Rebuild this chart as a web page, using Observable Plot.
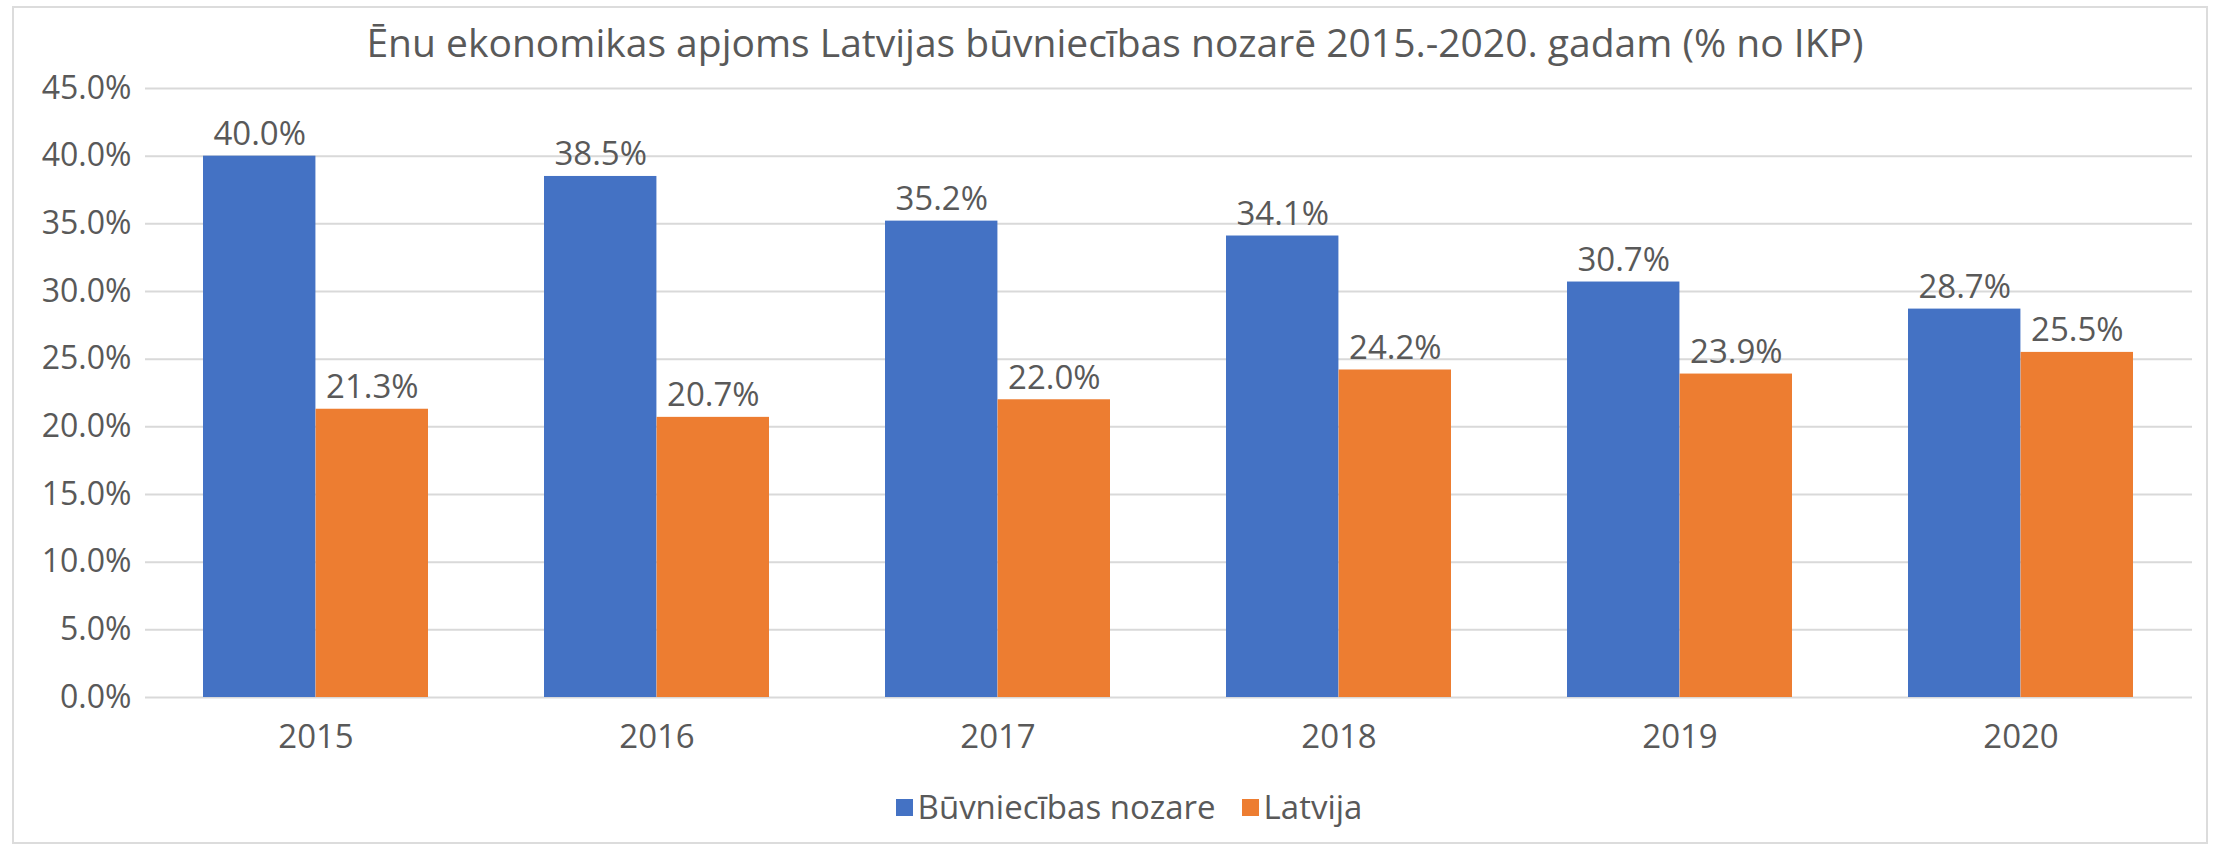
<!DOCTYPE html>
<html><head><meta charset="utf-8">
<script src="https://cdn.jsdelivr.net/npm/d3@7"></script>
<script src="https://cdn.jsdelivr.net/npm/@observablehq/plot@0.6"></script>
<style>
body{margin:0;background:#fff;}
#wrap{position:relative;width:2223px;height:847px;font-family:"Open Sans",sans-serif;color:#595959;overflow:hidden;background:#fff}
#frame{position:absolute;left:12px;top:6px;width:2196px;height:838px;border:2px solid #dcdcdc;box-sizing:border-box}
#title{position:absolute;left:0;width:2230px;top:17px;text-align:center;font-size:39px;line-height:50px;white-space:nowrap}
#chart{position:absolute;left:0;top:0}
#legend{position:absolute;left:0;width:2258px;top:787px;display:flex;justify-content:center;align-items:center;font-size:33px;line-height:40px;gap:26px}
#legend .item{display:flex;align-items:center;gap:5px}
#legend .sw{width:17px;height:17px;display:inline-block}
</style>
</head><body>
<div id="wrap">
  <div id="frame"></div>
  <div id="chart"></div>
  <div id="title"></div>
  <div id="legend"></div>
</div>
<script>
const titleText = "Ēnu ekonomikas apjoms Latvijas būvniecības nozarē 2015.-2020. gadam (% no IKP)";
const years = ["2015","2016","2017","2018","2019","2020"];
const buvniecibasNozare = [40.0, 38.5, 35.2, 34.1, 30.7, 28.7];
const latvija = [21.3, 20.7, 22.0, 24.2, 23.9, 25.5];
const seriesNames = ["Būvniecības nozare", "Latvija"];
const seriesColors = ["#4472C4", "#ED7D31"];
const yTicks = [0, 5, 10, 15, 20, 25, 30, 35, 40, 45];

const W = 2223, H = 780, ml = 145, mr = 31, mt = 88, mb = 83;
const pInner = 0.34;
const step = (W - ml - mr) / years.length;
const bw = step * (1 - pInner);
const half = bw / 2;
const textColor = "#595959";
const fmt = v => v.toFixed(1) + "%";

const rows = years.map((y, i) => ({year: y, a: buvniecibasNozare[i], b: latvija[i]}));

const chart = Plot.plot({
  width: W, height: H,
  marginLeft: ml, marginRight: mr, marginTop: mt, marginBottom: mb,
  style: {fontFamily: "Open Sans", fontSize: "32px", color: textColor, background: "transparent"},
  x: {type: "band", domain: years, paddingInner: pInner, paddingOuter: pInner / 2, label: null},
  y: {domain: [0, 45], label: null},
  marks: [
    Plot.gridY(yTicks, {stroke: "#d9d9d9", strokeOpacity: 1, strokeWidth: 2}),
    Plot.barY(rows, {x: "year", y: "a", fill: seriesColors[0], insetRight: half}),
    Plot.barY(rows, {x: "year", y: "b", fill: seriesColors[1], insetLeft: half}),
    Plot.text(rows, {x: "year", y: "a", text: d => fmt(d.a), dx: -half / 2, dy: -11, lineAnchor: "bottom", fontSize: 33, fill: textColor}),
    Plot.text(rows, {x: "year", y: "b", text: d => fmt(d.b), dx: half / 2, dy: -11, lineAnchor: "bottom", fontSize: 33, fill: textColor}),
    Plot.axisX({tickSize: 0, tickPadding: 27, fontSize: 33}),
    Plot.axisY(yTicks, {tickSize: 0, tickPadding: 14, tickFormat: fmt, fontSize: 32})
  ]
});
document.getElementById("chart").appendChild(chart);
document.getElementById("title").textContent = titleText;
const legend = document.getElementById("legend");
seriesNames.forEach((n, i) => {
  const it = document.createElement("div"); it.className = "item";
  const sw = document.createElement("span"); sw.className = "sw"; sw.style.background = seriesColors[i];
  const tx = document.createElement("span"); tx.textContent = n;
  it.appendChild(sw); it.appendChild(tx); legend.appendChild(it);
});
</script>
</body></html>
